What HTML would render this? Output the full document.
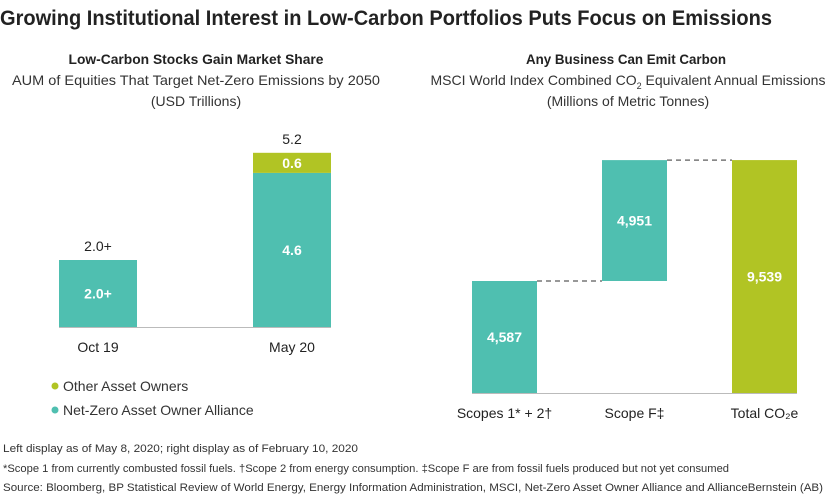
<!DOCTYPE html>
<html><head><meta charset="utf-8">
<style>
html,body{margin:0;padding:0;background:#fff;}
svg{display:block;font-family:"Liberation Sans Narrow","Liberation Sans",sans-serif;}
</style></head>
<body>
<svg id="chart" width="840" height="495" viewBox="0 0 840 495" xmlns="http://www.w3.org/2000/svg">
<text x="0" y="25" font-size="21" font-weight="bold" fill="#222" textLength="772" lengthAdjust="spacingAndGlyphs">Growing Institutional Interest in Low-Carbon Portfolios Puts Focus on Emissions</text>

<text x="196" y="64" font-size="14" font-weight="bold" fill="#222" text-anchor="middle" textLength="255" lengthAdjust="spacingAndGlyphs">Low-Carbon Stocks Gain Market Share</text>
<text x="196" y="85" font-size="14" fill="#333" text-anchor="middle" textLength="368" lengthAdjust="spacingAndGlyphs">AUM of Equities That Target Net-Zero Emissions by 2050</text>
<text x="196" y="106" font-size="14" fill="#333" text-anchor="middle">(USD Trillions)</text>

<text x="626" y="64" font-size="14" font-weight="bold" fill="#222" text-anchor="middle" textLength="200" lengthAdjust="spacingAndGlyphs">Any Business Can Emit Carbon</text>
<text x="628" y="85" font-size="14" fill="#333" text-anchor="middle" textLength="395" lengthAdjust="spacingAndGlyphs">MSCI World Index Combined CO<tspan font-size="9" dy="4">2</tspan><tspan dy="-4"> Equivalent Annual Emissions</tspan></text>
<text x="628" y="106" font-size="14" fill="#333" text-anchor="middle">(Millions of Metric Tonnes)</text>

<g id="left"></g>
<g id="right"></g>

<g>
<circle cx="55" cy="386" r="3.5" fill="#b1c424"/>
<text x="63" y="391" font-size="14" fill="#333">Other Asset Owners</text>
<circle cx="55" cy="410" r="3.5" fill="#4fbfb0"/>
<text x="63" y="415" font-size="14" fill="#333">Net-Zero Asset Owner Alliance</text>
</g>

<text x="3" y="452" font-size="11" fill="#333" textLength="355" lengthAdjust="spacingAndGlyphs">Left display as of May 8, 2020; right display as of February 10, 2020</text>
<text x="3" y="472" font-size="11" fill="#333" textLength="726" lengthAdjust="spacingAndGlyphs">*Scope 1 from currently combusted fossil fuels. †Scope 2 from energy consumption. ‡Scope F are from fossil fuels produced but not yet consumed</text>
<text x="3" y="491" font-size="11" fill="#333" textLength="820" lengthAdjust="spacingAndGlyphs">Source: Bloomberg, BP Statistical Review of World Energy, Energy Information Administration, MSCI, Net-Zero Asset Owner Alliance and AllianceBernstein (AB)</text>
</svg>
<script>
var leftCategories = ["Oct 19", "May 20"];
var leftNetZero = [2.0, 4.6];
var leftOther = [0, 0.6];
var leftTotalLabels = ["2.0+", "5.2"];
var leftNetZeroLabels = ["2.0+", "4.6"];
var leftOtherLabels = ["", "0.6"];

var rightCategories = ["Scopes 1* + 2†", "Scope F‡", "Total CO₂e"];
var rightValues = [4587, 4951, 9539];
var rightLabels = ["4,587", "4,951", "9,539"];

var NS = "http://www.w3.org/2000/svg";
var TEAL = "#4fbfb0", GREEN = "#b1c424";
function mk(tag, attrs, parent, txt) {
  var e = document.createElementNS(NS, tag);
  for (var k in attrs) e.setAttribute(k, attrs[k]);
  if (txt !== undefined) e.textContent = txt;
  parent.appendChild(e);
  return e;
}
// left axis
var lBase = 327, lScale = 33.5;
function ly(v) { return lBase - v * lScale; }
function lx(i) { return 59 + i * 194; }
var lw = 78;
var L = document.getElementById("left");
for (var i = 0; i < leftCategories.length; i++) {
  var bx = lx(i);
  var r = mk("rect", {x: bx, y: ly(leftNetZero[i]), width: lw, height: lBase - ly(leftNetZero[i]), fill: TEAL}, L);
  
  
  var t = mk("text", {x: bx + lw / 2, y: (ly(leftNetZero[i]) + lBase) / 2 + 5, "font-size": 14, "font-weight": "bold", fill: "#fff", "text-anchor": "middle"}, L, leftNetZeroLabels[i]);
  
  
  var stackTop = leftNetZero[i];
  if (leftOther[i] > 0) {
    var y0 = ly(leftNetZero[i] + leftOther[i]);
    var r2 = mk("rect", {x: bx, y: y0, width: lw, height: ly(leftNetZero[i]) - y0, fill: GREEN}, L);
    
    
    var t2 = mk("text", {x: bx + lw / 2, y: (y0 + ly(leftNetZero[i])) / 2 + 5, "font-size": 14, "font-weight": "bold", fill: "#fff", "text-anchor": "middle"}, L, leftOtherLabels[i]);
    
    
    stackTop += leftOther[i];
  }
  var tt = mk("text", {x: bx + lw / 2, y: ly(stackTop) - 9, "font-size": 14, fill: "#222", "text-anchor": "middle"}, L, leftTotalLabels[i]);
  
  
  var cl = mk("text", {x: bx + lw / 2, y: 352, "font-size": 14, fill: "#222", "text-anchor": "middle"}, L, leftCategories[i]);
  
  
}
var lb = mk("line", {x1: 59, x2: lx(leftCategories.length - 1) + lw, y1: lBase + 0.5, y2: lBase + 0.5, stroke: "#bbb", "stroke-width": 1}, L);



// right axis (waterfall)
var rBase = 393, rScale = 112 / 4587;
function ry(v) { return rBase - v * rScale; }
function rx(i) { return 472 + i * 130; }
var rw = 65;
var R = document.getElementById("right");
var cum = 0;
var prevTopY = null;
for (var j = 0; j < rightCategories.length; j++) {
  var isTotal = j === rightCategories.length - 1;
  var lo = isTotal ? 0 : cum;
  var hi = isTotal ? rightValues[j] : cum + rightValues[j];
  var cx = rx(j);
  var rr = mk("rect", {x: cx, y: ry(hi), width: rw, height: ry(lo) - ry(hi), fill: isTotal ? GREEN : TEAL}, R);
  
  
  var tl = mk("text", {x: cx + rw / 2, y: (ry(hi) + ry(lo)) / 2 + 5, "font-size": 14, "font-weight": "bold", fill: "#fff", "text-anchor": "middle"}, R, rightLabels[j]);
  
  
  if (j > 0) {
    var dl = mk("line", {x1: rx(j - 1) + rw, x2: cx, y1: prevTopY, y2: prevTopY, stroke: "#777", "stroke-width": 1.5, "stroke-dasharray": "5,4"}, R);
    
    
  }
  var cl2 = mk("text", {x: cx + rw / 2, y: 418, "font-size": 14, fill: "#222", "text-anchor": "middle"}, R, rightCategories[j]);
  
  
  prevTopY = ry(hi);
  if (!isTotal) cum = hi;
}
var rb = mk("line", {x1: 472, x2: rx(rightCategories.length - 1) + rw, y1: rBase + 0.5, y2: rBase + 0.5, stroke: "#bbb", "stroke-width": 1}, R);


</script>
</body></html>
